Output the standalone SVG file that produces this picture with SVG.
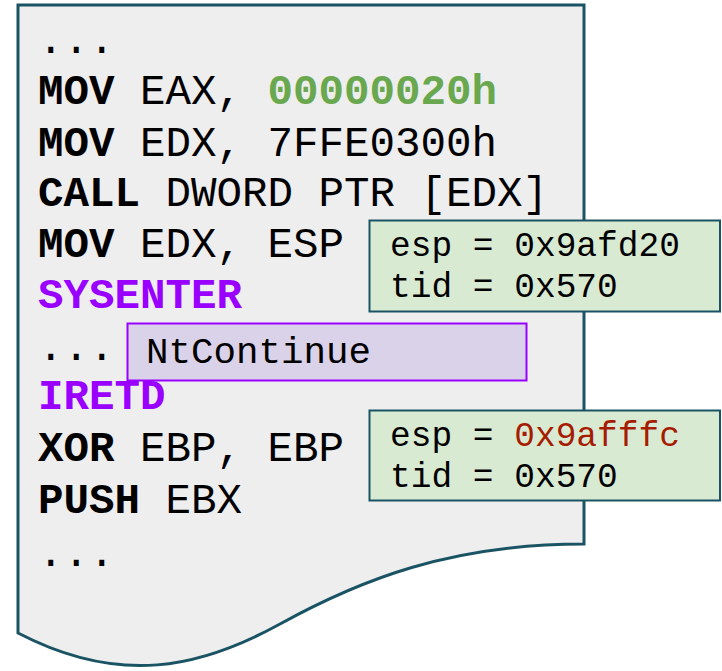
<svg xmlns="http://www.w3.org/2000/svg" width="722" height="671" viewBox="0 0 722 671">
<style>
.code{font-family:"Liberation Mono","Courier New",monospace;font-size:42.5px;fill:#000}
.b{font-weight:bold}
.g{fill:#6aa84f}
.p{fill:#9900ff}
.r{fill:#a61c00}
.note{font-family:"Liberation Mono","Courier New",monospace;font-size:34.5px;fill:#000}
.nt{font-family:"Liberation Mono","Courier New",monospace;font-size:37.5px;fill:#000}
</style>
<g id="document">
<path d="M18,5 L584,5 L584,544 C450,544 360,580 280,624 C200,668 120,686 18,633 Z" fill="#eeeeee" stroke="#1a5464" stroke-width="3" stroke-linejoin="miter"/>
<text class="code" x="38" y="53">...</text>
<text class="code" x="38" y="104"><tspan class="b">MOV</tspan> EAX, <tspan class="b g">00000020h</tspan></text>
<text class="code" x="38" y="156"><tspan class="b">MOV</tspan> EDX, 7FFE0300h</text>
<text class="code" x="38" y="206"><tspan class="b">CALL</tspan> DWORD PTR [EDX]</text>
<text class="code" x="38" y="257"><tspan class="b">MOV</tspan> EDX, ESP</text>
<text class="code b p" x="38" y="308">SYSENTER</text>
<text class="code" x="38" y="360">...</text>
<text class="code b p" x="38" y="409">IRETD</text>
<text class="code" x="38" y="461"><tspan class="b">XOR</tspan> EBP, EBP</text>
<text class="code" x="38" y="513"><tspan class="b">PUSH</tspan> EBX</text>
<text class="code" x="38" y="566">...</text>
</g>
<g id="state1">
<rect x="369.5" y="220.5" width="350.5" height="91" fill="#d9ead3" stroke="#1a5464" stroke-width="2"/>
<text class="note" x="390" y="256">esp = 0x9afd20</text>
<text class="note" x="390" y="297">tid = 0x570</text>
</g>
<g id="ntcontinue">
<rect x="127.5" y="323.5" width="399" height="57" fill="#d9d2e9" stroke="#9900ff" stroke-width="2"/>
<text class="nt" x="146" y="363">NtContinue</text>
</g>
<g id="state2">
<rect x="369.5" y="410.5" width="350.5" height="90" fill="#d9ead3" stroke="#1a5464" stroke-width="2"/>
<text class="note" x="390" y="446">esp = <tspan class="r">0x9afffc</tspan></text>
<text class="note" x="390" y="487">tid = 0x570</text>
</g>
<g id="connectors"/>
</svg>
